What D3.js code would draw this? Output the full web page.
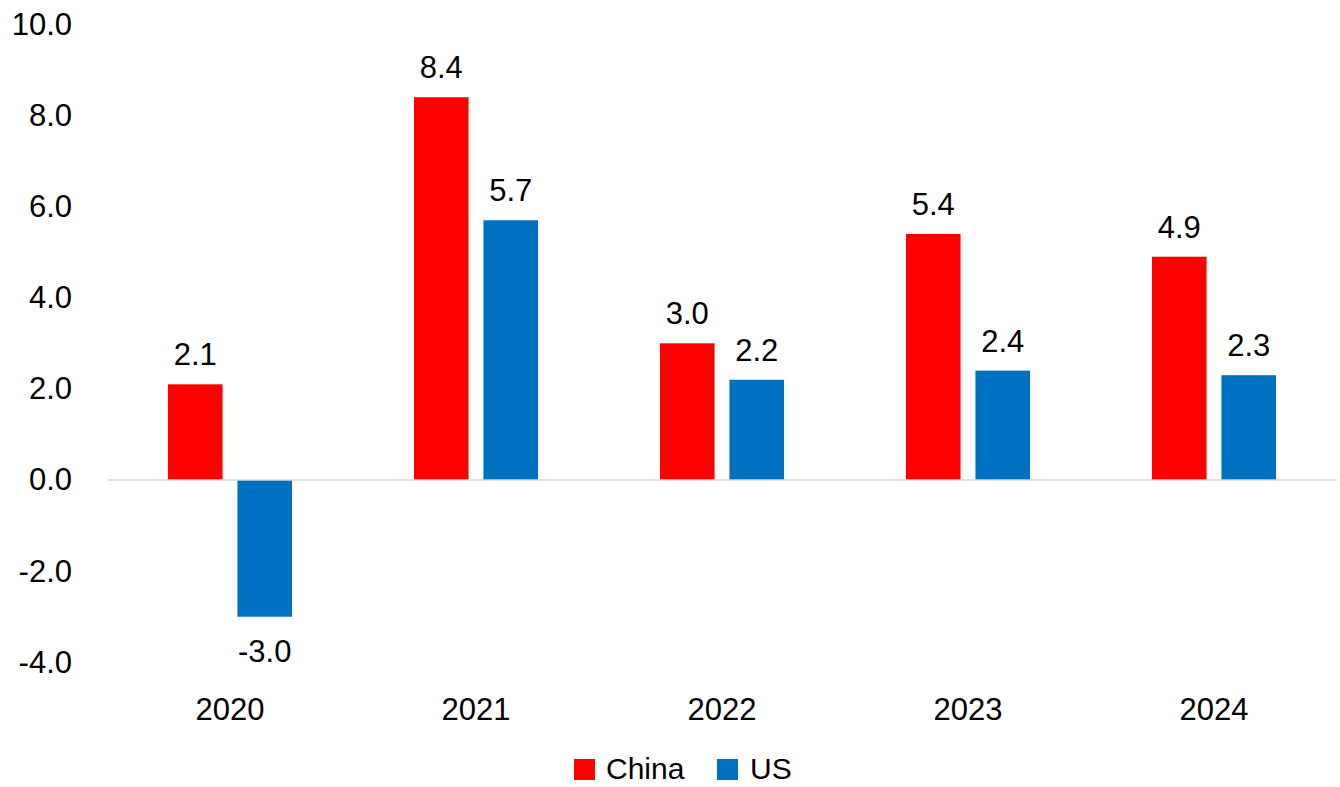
<!DOCTYPE html>
<html>
<head>
<meta charset="utf-8">
<script src="https://cdn.jsdelivr.net/npm/d3@7"></script>
<style>
  html, body { margin: 0; padding: 0; background: #ffffff; }
  svg { display: block; font-family: "Liberation Sans", Arial, sans-serif; }
</style>
</head>
<body>
<svg id="chart" width="1340" height="787"></svg>
<script>
const categories = ["2020", "2021", "2022", "2023", "2024"];
const seriesNames = ["China", "US"];
const chinaValues = [2.1, 8.4, 3.0, 5.4, 4.9];
const usValues = [-3.0, 5.7, 2.2, 2.4, 2.3];
const yTicks = [-4, -2, 0, 2, 4, 6, 8, 10];
const colors = { China: "#FF0000", US: "#0070C0" };

const seriesValues = { China: chinaValues, US: usValues };

(function () {
const svg = d3.select("#chart");
const plotLeft = 107, plotRight = 1337, plotTop = 24.3, plotBottom = 662.3;
const fmt = v => v.toFixed(1);

const x = d3.scaleBand().domain(categories).range([plotLeft, plotRight]).paddingInner(0).paddingOuter(0);
const xs = d3.scaleBand().domain(seriesNames).range([61, 185]).paddingInner(0.214).paddingOuter(0);
const y = d3.scaleLinear().domain([-4, 10]).range([plotBottom, plotTop]);

// Y axis labels
const yAxis = d3.axisLeft(y).tickValues(yTicks).tickFormat(fmt).tickSize(0).tickPadding(0);
const gy = svg.append("g").attr("transform", "translate(72,0)").call(yAxis);
gy.select(".domain").remove();
gy.selectAll("text").attr("font-size", 31).attr("fill", "#000").attr("font-family", "Liberation Sans, Arial, sans-serif");

// Bars
const data = [];
categories.forEach((c, i) => seriesNames.forEach(s => data.push({ cat: c, series: s, value: seriesValues[s][i] })));

svg.append("g").selectAll("rect").data(data).join("rect")
  .attr("x", d => x(d.cat) + xs(d.series))
  .attr("width", xs.bandwidth())
  .attr("y", d => d.value >= 0 ? y(d.value) : y(0))
  .attr("height", d => Math.abs(y(d.value) - y(0)))
  .attr("fill", d => colors[d.series]);

// Zero line
svg.append("line")
  .attr("x1", plotLeft).attr("x2", plotRight)
  .attr("y1", y(0)).attr("y2", y(0))
  .attr("stroke", "#d9d9d9").attr("stroke-width", 1.5);

// Value labels
svg.append("g").selectAll("text").data(data).join("text")
  .attr("x", d => x(d.cat) + xs(d.series) + xs.bandwidth() / 2)
  .attr("y", d => d.value >= 0 ? y(d.value) - 19 : y(d.value) + 45)
  .attr("text-anchor", "middle")
  .attr("font-size", 31)
  .attr("fill", "#000")
  .text(d => fmt(d.value));

// X axis labels
const xAxis = d3.axisBottom(x).tickSize(0).tickPadding(0);
const gx = svg.append("g").attr("transform", "translate(0,697)").call(xAxis);
gx.select(".domain").remove();
gx.selectAll("text").attr("font-size", 31).attr("fill", "#000").attr("dy", "0.75em").attr("font-family", "Liberation Sans, Arial, sans-serif");

// Legend
const legendItems = [
  { name: "China", sx: 574, tx: 606 },
  { name: "US", sx: 717, tx: 750 }
];
const lg = svg.append("g");
legendItems.forEach(it => {
  lg.append("rect").attr("x", it.sx).attr("y", 759).attr("width", 21).attr("height", 21).attr("fill", colors[it.name]);
  lg.append("text").attr("x", it.tx).attr("y", 779).attr("font-size", 30).attr("fill", "#000").text(it.name);
});
})();
</script>
</body>
</html>
